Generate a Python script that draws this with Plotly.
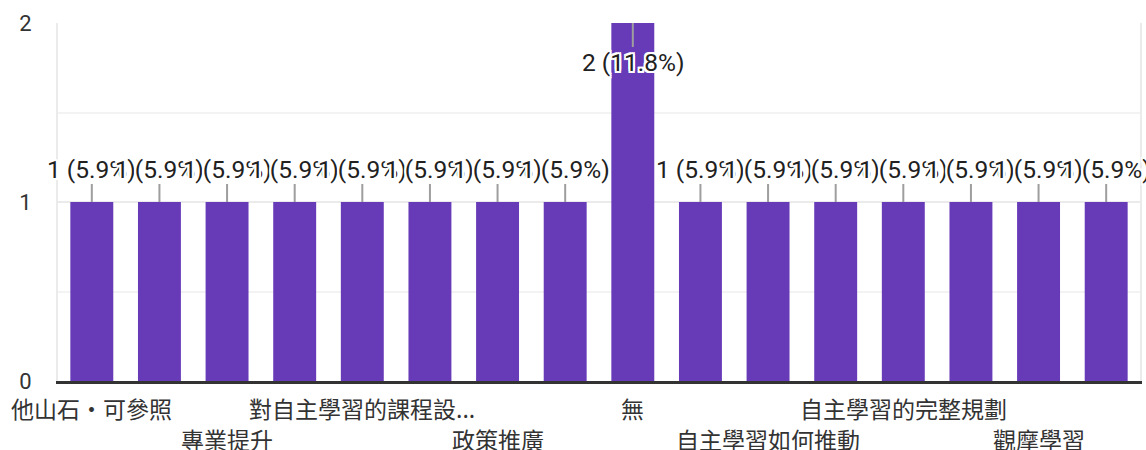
import plotly.graph_objects as go

# ---- data ----
values = [1, 1, 1, 1, 1, 1, 1, 1, 2, 1, 1, 1, 1, 1, 1, 1]
tick_labels = ["他山石・可參照", "專業提升", "對自主學習的課程設...", "政策推廣",
               "無", "自主學習如何推動", "自主學習的完整規劃", "觀摩學習"]
tick_positions = [0, 2, 4, 6, 8, 10, 12, 14]
tick_rows = [0, 1, 0, 1, 0, 1, 0, 1]
y_ticks = [0, 1, 2]

total = sum(values)
x = list(range(len(values)))

FONT = "Roboto, Liberation Sans, Noto Sans CJK TC, sans-serif"
CJK_FONT = "Noto Sans CJK TC, sans-serif"
PURPLE = "#673ab7"
halo = ", ".join(f"{dx}px {dy}px 0 #fff" for dx in (-2, 0, 2) for dy in (-2, 0, 2) if dx or dy)

fig = go.Figure(go.Bar(x=x, y=values, marker=dict(color=PURPLE, line=dict(width=0)),
                       hoverinfo="skip"))

annotations = []
vmax = max(values)
for xi, v in zip(x, values):
    pct = v / total * 100
    below = v == vmax
    annotations.append(dict(
        x=xi, y=v, xref="x", yref="y",
        text=f"{v} ({pct:.1f}%)",
        showarrow=True, arrowhead=0, arrowwidth=2, arrowcolor="#9e9e9e",
        ax=0, ay=39 if below else -33, standoff=0,
        font=dict(family=FONT, size=24.5, color="#212121", shadow=halo),
        borderpad=0,
    ))

for lab, pos, row in zip(tick_labels, tick_positions, tick_rows):
    annotations.append(dict(
        x=pos, y=0, xref="x", yref="paper", text=lab, showarrow=False,
        yanchor="middle", xanchor="center", yshift=-27 if row == 0 else -58,
        font=dict(family=CJK_FONT, size=23, color="#333333"),
    ))

fig.update_layout(
    width=1146, height=450,
    margin=dict(l=58, r=4, t=23, b=69),
    paper_bgcolor="white", plot_bgcolor="white",
    bargap=0.365, showlegend=False,
    annotations=annotations,
    font=dict(family=FONT),
    xaxis=dict(range=[-0.5, len(values) - 0.5], showticklabels=False, showgrid=False,
               zeroline=False, showline=True, linecolor="#333333", linewidth=3, ticks=""),
    yaxis=dict(range=[0, 2], tickvals=y_ticks, showgrid=True, gridcolor="#ebebeb", gridwidth=2,
               zeroline=False, showline=True, linecolor="#ebebeb", linewidth=2, mirror=True,
               ticks="", ticklabelstandoff=20,
               tickfont=dict(family=FONT, size=22, color="#333333"),
               minor=dict(dtick=0.5, showgrid=True, gridcolor="#f3f3f3", gridwidth=2)),
)

fig.write_html("out.html", config={"displayModeBar": False},
               post_script="document.body.style.margin='0';document.body.style.padding='0';")
